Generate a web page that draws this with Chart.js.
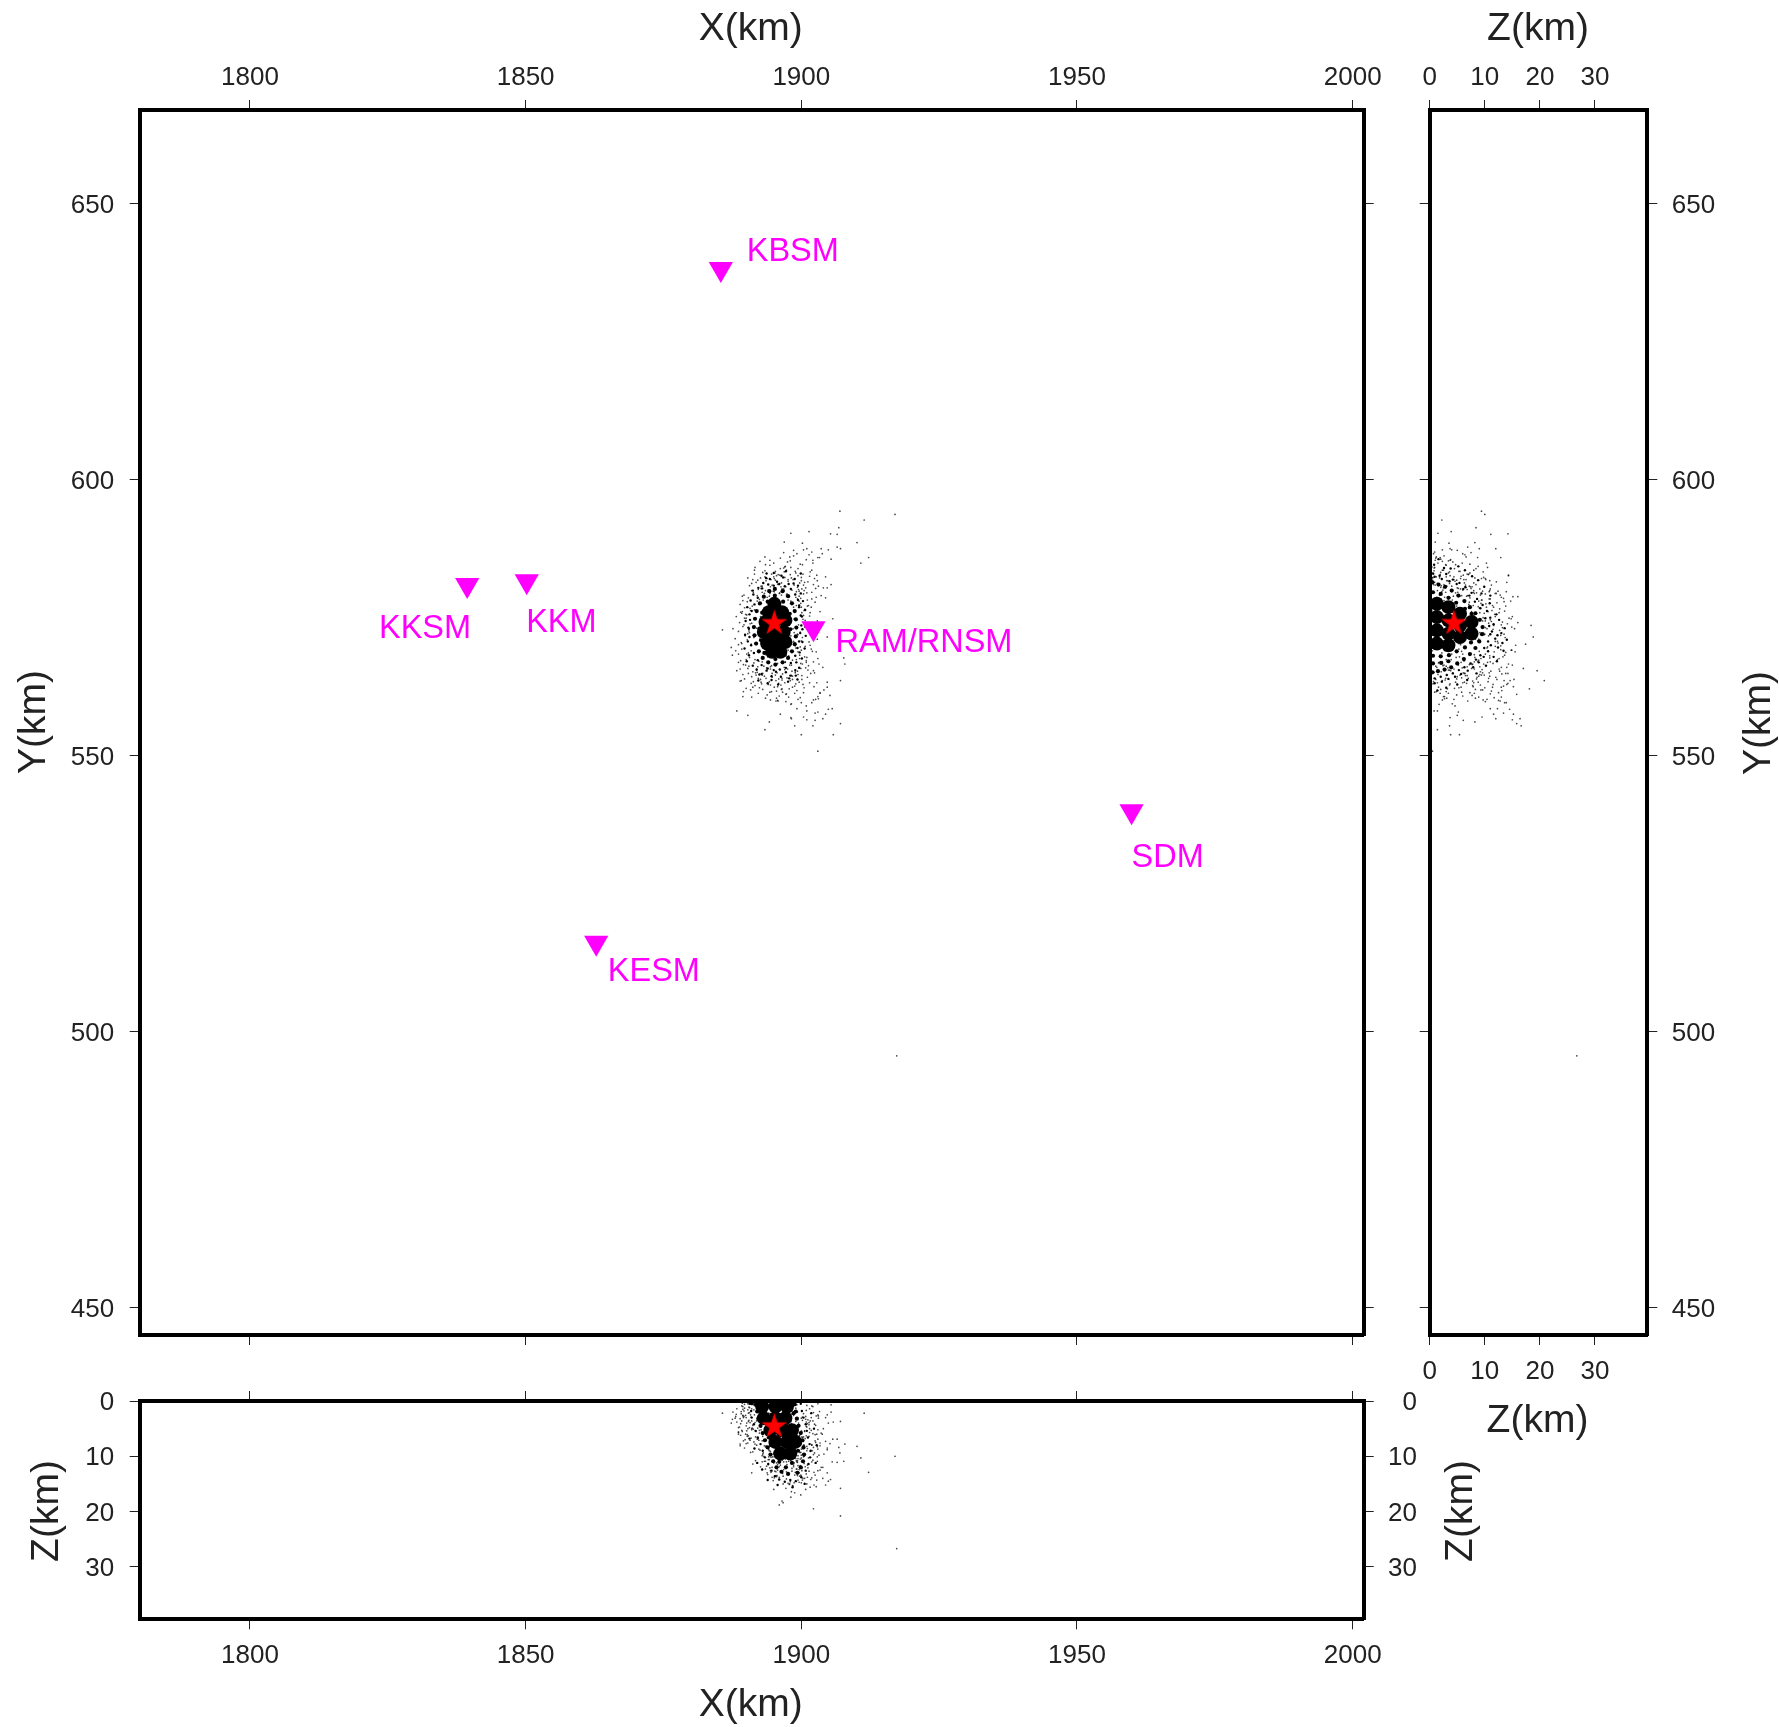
<!DOCTYPE html>
<html>
<head>
<meta charset="utf-8">
<title>Hypocentres</title>
<script src="https://cdn.jsdelivr.net/npm/chart.js@4/dist/chart.umd.min.js"></script>
<style>
  html, body { margin: 0; background: #fff; }
  body { position: relative; width: 1779px; height: 1727px; overflow: hidden; }
  canvas { position: absolute; left: 0; top: 0; }
</style>
</head>
<body>
<canvas id="mapChart" width="1779" height="1727"></canvas>
<canvas id="sideChart" width="1779" height="1727"></canvas>
<canvas id="floorChart" width="1779" height="1727"></canvas>
<script>
const xTicks = [1800, 1850, 1900, 1950, 2000];
const yTicks = [450, 500, 550, 600, 650];
const zTicks = [0, 10, 20, 30];

const stationNames = ['KBSM', 'KKSM', 'KKM', 'RAM/RNSM', 'SDM', 'KESM'];
const stationX = [1885.4, 1839.4, 1850.2, 1902.2, 1959.9, 1862.8];
const stationY = [638.2, 580.9, 581.6, 573.1, 539.9, 516.1];
const stationLabelX = [1890.1, 1823.4, 1850.1, 1906.2, 1959.9, 1864.9];
const stationLabelY = [639.7, 571.4, 572.4, 568.7, 529.9, 509.2];

const mainshockX = [1895.1];
const mainshockY = [574.2];
const mainshockZ = [4.4];

// solid black middle of the swarm, one list per view
const mapCoreX = [1895.1, 1894.1, 1896.5, 1893.5, 1895.1, 1897.1, 1893.2, 1895.0, 1896.8, 1893.8, 1895.6, 1897.1, 1894.7, 1896.2];
const mapCoreY = [577.5, 576.0, 576.0, 574.2, 574.2, 574.5, 572.4, 572.1, 572.4, 570.3, 570.3, 570.6, 568.8, 568.8];
const sideCoreZ = [1.3, 1.3, 1.3, 1.3, 3.4, 3.4, 3.4, 3.4, 5.5, 5.5, 5.5, 7.6, 7.6];
const sideCoreY = [577.5, 575.1, 572.7, 570.3, 576.9, 574.5, 572.1, 570.0, 575.7, 573.6, 571.5, 574.2, 572.1];
const floorCoreX = [1892.9, 1895.3, 1897.4, 1893.2, 1895.3, 1897.1, 1894.4, 1896.5, 1898.3, 1895.3, 1897.4, 1898.9, 1896.2, 1898.0];
const floorCoreZ = [1.0, 1.0, 1.0, 3.1, 3.1, 3.1, 5.3, 5.3, 5.3, 7.4, 7.4, 7.4, 9.5, 9.5];

// crowded edge of the black part
const mapPatchX = [
  1895.2, 1896.6, 1897.6, 1898.3, 1898.8, 1899.0, 1899.1, 1899.0, 1898.8, 1898.3, 1897.6, 1896.6,
  1895.3, 1894.0, 1893.0, 1892.3, 1891.8, 1891.5, 1891.4, 1891.6, 1891.9, 1892.5, 1893.2, 1894.2,
  1892.9, 1897.9, 1898.0, 1892.4, 1892.7, 1898.0, 1897.0, 1893.3, 1893.9, 1896.7, 1895.2, 1895.3
];
const mapPatchY = [
  580.2, 579.8, 578.9, 577.6, 576.2, 574.7, 573.2, 571.6, 570.2, 568.9, 567.7, 566.9,
  566.5, 566.9, 567.7, 568.9, 570.3, 571.8, 573.3, 574.8, 576.2, 577.6, 578.8, 579.8,
  575.9, 575.7, 572.9, 573.0, 570.9, 570.5, 568.3, 568.6, 577.9, 577.9, 579.0, 567.5
];
const sidePatchZ = [
  0.5, 1.6, 2.8, 4.0, 5.2, 6.3, 7.3, 8.3, 9.1, 9.6, 9.5, 9.0, 8.3, 7.3, 6.2, 5.0, 3.9, 2.7, 1.5, 0.5,
  0.6, 2.0, 3.4, 4.8, 6.4, 7.6, 0.6, 2.0, 3.5, 4.9, 6.4, 7.5, 0.6, 2.1, 3.4, 7.2, 6.9, 1.9
];
const sidePatchY = [
  581.4, 581.0, 580.6, 579.9, 579.0, 578.0, 576.9, 575.8, 574.6, 573.3, 572.0, 570.7, 569.5, 568.4, 567.5, 566.7, 566.0, 565.6, 565.3, 565.1,
  579.6, 579.3, 578.6, 577.7, 576.6, 575.7, 568.1, 568.0, 568.2, 568.9, 569.6, 570.5, 566.7, 566.8, 567.1, 573.9, 572.2, 578.2
];
const floorPatchX = [
  1891.8, 1892.0, 1892.2, 1892.6, 1893.0, 1893.4, 1893.9, 1894.4, 1894.9, 1895.5,
  1898.8, 1899.0, 1899.2, 1899.5, 1899.9, 1900.2, 1900.4, 1900.5, 1900.3, 1899.9, 1899.3,
  1893.7, 1894.1, 1894.6, 1895.3, 1896.0, 1897.2, 1898.3, 1899.4, 1899.0, 1894.3, 1898.6, 1891.0, 1897.6, 1896.4
];
const floorPatchZ = [
  0.6, 1.9, 3.2, 4.5, 5.8, 7.1, 8.4, 9.7, 10.9, 12.0,
  0.6, 1.9, 3.2, 4.5, 5.8, 7.1, 8.4, 9.7, 10.9, 12.0, 13.0,
  5.0, 6.6, 8.0, 9.4, 11.0, 12.0, 11.2, 9.0, 6.4, 3.6, 2.2, 0.4, 13.2, 12.8
];

// the grainy belt round it
const mapGrainX = [
  1893.1, 1894.3, 1895.6, 1896.7, 1897.7, 1898.8, 1899.4, 1892.2, 1893.7, 1897.2, 1895.0, 1899.9,
  1899.9, 1900.3, 1899.6, 1900.7, 1900.1, 1900.9, 1900.2, 1900.8, 1900.2, 1900.6, 1899.7, 1900.1, 1899.1, 1899.6,
  1891.3, 1890.8, 1890.2, 1890.6, 1889.9, 1890.4, 1889.8, 1890.3, 1889.7, 1890.5, 1890.1, 1891.2,
  1891.9, 1892.8, 1893.7, 1894.6, 1895.4, 1896.3, 1897.2, 1898.1, 1898.9, 1892.2, 1893.9, 1895.8, 1897.6, 1899.3,
  1892.9, 1894.0, 1895.0, 1896.0, 1897.0, 1898.1, 1898.9, 1899.4, 1899.6, 1899.9,
  1900.0, 1899.8, 1899.6, 1899.3, 1898.9, 1898.1, 1897.2, 1896.1, 1895.0, 1893.9,
  1892.8, 1892.1, 1891.4, 1890.9, 1890.6, 1890.5, 1890.7, 1891.0, 1891.5, 1892.1,
  1893.6, 1896.4, 1898.6, 1892.4, 1897.8, 1894.6, 1899.0, 1891.2
];
const mapGrainY = [
  581.3, 582.0, 581.5, 582.3, 581.1, 582.0, 580.8, 580.4, 583.0, 583.4, 583.1, 583.0,
  579.4, 578.0, 577.2, 576.4, 575.2, 574.0, 572.9, 571.7, 570.6, 569.4, 568.7, 567.6, 566.9, 565.9,
  579.2, 578.1, 576.9, 575.6, 574.4, 573.2, 571.9, 570.7, 569.4, 568.2, 567.1, 566.3,
  565.6, 564.8, 565.4, 564.4, 565.2, 564.3, 565.1, 564.5, 565.5, 563.6, 563.1, 562.9, 563.4, 563.8,
  580.3, 581.0, 580.8, 581.1, 580.7, 580.2, 579.2, 578.2, 576.9, 575.4,
  573.6, 572.2, 570.7, 569.5, 568.1, 566.8, 565.9, 565.6, 565.5, 565.8,
  566.4, 567.3, 568.6, 570.0, 571.5, 573.0, 574.6, 576.2, 577.4, 578.6,
  582.2, 582.6, 581.2, 564.7, 564.0, 563.7, 564.5, 579.9
];
const sideGrainZ = [
  0.6, 1.8, 3.0, 4.2, 5.4, 6.5, 7.6, 8.6, 9.6, 10.4, 11.0, 11.6, 11.3, 11.9, 11.1, 10.6, 9.8, 8.9, 7.9, 6.9,
  5.7, 4.6, 3.4, 2.2, 0.9, 12.6, 13.0, 12.4, 10.9, 9.4, 2.6, 0.8, 1.4, 3.0, 5.0, 6.8, 8.5, 10.2, 11.6, 13.2,
  10.1, 10.8, 11.0, 10.6, 9.9, 9.2, 8.4, 7.4, 6.3, 5.3,
  4.2, 3.1, 2.0, 0.9, 0.9, 2.2, 3.6, 4.9, 6.1, 7.2,
  8.2, 9.2, 12.1, 12.3, 13.6, 14.0, 13.4, 12.2, 11.0, 9.9,
  8.8, 7.7, 6.4, 5.2, 3.8, 1.6
];
const sideGrainY = [
  583.0, 582.6, 582.9, 581.9, 581.3, 580.5, 579.5, 578.4, 577.3, 576.2, 575.0, 573.8, 572.5, 571.2, 570.0, 568.9, 567.9, 566.9, 566.0, 565.4,
  564.8, 564.3, 563.9, 563.4, 563.1, 574.6, 572.2, 569.6, 577.6, 579.4, 584.0, 584.6, 561.8, 562.3, 562.9, 563.7, 564.9, 566.3, 567.9, 570.4,
  574.9, 573.5, 572.0, 570.7, 569.5, 568.2, 567.4, 566.7, 566.0, 565.5,
  564.9, 564.6, 564.3, 564.0, 582.4, 582.0, 581.6, 581.1, 580.2, 579.0,
  577.9, 576.7, 575.6, 571.8, 573.1, 571.0, 569.0, 567.1, 579.0, 580.6,
  581.8, 582.5, 583.6, 584.3, 583.9, 585.6
];
const floorGrainX = [
  1890.6, 1890.9, 1891.0, 1891.4, 1891.7, 1892.1, 1892.6, 1893.0, 1893.4, 1894.0, 1894.6, 1895.2, 1896.0, 1897.0, 1898.0, 1899.0, 1900.0, 1900.8, 1901.3, 1901.6,
  1901.7, 1901.5, 1901.2, 1901.0, 1900.8, 1900.4, 1900.1, 1899.9, 1892.0, 1892.9, 1891.5, 1890.6, 1902.6, 1902.8, 1902.3, 1901.8, 1893.9, 1895.7, 1898.4, 1900.6
];
const floorGrainZ = [
  0.5, 1.8, 3.0, 4.2, 5.4, 6.6, 7.8, 9.0, 10.2, 11.4, 12.6, 13.6, 14.2, 14.6, 14.3, 14.5, 13.8, 12.6, 11.4, 10.2,
  9.0, 7.8, 6.6, 5.4, 4.2, 3.0, 1.8, 0.5, 11.2, 12.4, 8.6, 6.8, 11.2, 8.0, 5.0, 2.2, 14.3, 15.2, 15.6, 15.0
];

// single events, same order in all three lists
const quakeX = [
  1907.0, 1917.0, 1911.4, 1906.8, 1901.4, 1906.5, 1905.3, 1910.1, 1898.1, 1900.2,
  1896.9, 1910.8, 1912.2, 1907.1, 1906.5, 1917.3, 1907.1, 1907.1, 1902.2, 1896.0,
  1896.7, 1896.5, 1898.1, 1898.8, 1898.2, 1895.0, 1885.7, 1888.6, 1887.5, 1888.1,
  1889.2, 1888.6, 1889.5, 1888.9, 1888.9, 1889.4, 1891.0, 1891.2, 1888.3, 1890.3,
  1894.2, 1893.4, 1896.2, 1898.1, 1900.0, 1902.1, 1903.0, 1905.8, 1904.4, 1903.9,
  1902.5, 1901.0, 1902.5, 1900.4, 1905.6, 1904.7, 1904.7, 1902.8, 1903.4, 1903.1,
  1902.2, 1907.9, 1907.7, 1903.9, 1903.0, 1905.7, 1904.7, 1902.7, 1904.4, 1905.4,
  1904.7, 1904.0, 1904.4, 1902.8, 1901.9, 1905.4, 1903.8, 1904.9, 1903.0, 1902.1,
  1898.6, 1900.4, 1901.0, 1896.8, 1901.9, 1903.6, 1894.3, 1895.3, 1892.6, 1892.7,
  1900.6, 1899.4, 1900.8, 1897.8, 1899.6, 1898.5, 1895.7, 1898.7, 1901.6, 1899.9,
  1896.2, 1897.5, 1898.6, 1899.8, 1900.9, 1902.1, 1903.3, 1897.1, 1899.2, 1901.4, 1898.1, 1900.2,
  1893.4, 1895.2, 1896.1, 1897.3, 1898.2, 1899.4, 1900.3, 1901.6, 1902.4, 1896.8, 1898.9, 1894.5,
  1890.6, 1891.8, 1892.7, 1893.6, 1894.4, 1895.7, 1896.5, 1897.6, 1898.7, 1899.7, 1900.8, 1902.2,
  1891.2, 1892.2, 1893.1, 1894.9, 1895.3, 1896.9, 1897.2, 1898.3, 1899.1, 1900.1, 1901.2, 1903.1,
  1889.6, 1890.4, 1891.3, 1892.4, 1893.3, 1894.1, 1899.6, 1900.4, 1901.1, 1901.9, 1902.7, 1903.6,
  1888.9, 1889.7, 1890.2, 1890.8, 1891.1, 1899.9, 1900.6, 1901.3, 1901.8, 1902.5, 1889.3, 1900.1,
  1888.2, 1888.8, 1889.4, 1889.9, 1890.5, 1900.3, 1900.9, 1901.5, 1902.1, 1899.8, 1887.6, 1903.0,
  1888.0, 1888.6, 1889.2, 1889.8, 1890.4, 1900.2, 1900.7, 1901.4, 1902.0, 1899.7, 1887.3, 1902.9,
  1889.0, 1889.9, 1890.6, 1891.4, 1892.3, 1893.2, 1899.1, 1899.9, 1900.6, 1901.3, 1902.2, 1903.2,
  1888.3, 1889.4, 1890.3, 1891.0, 1892.0, 1892.9, 1893.8, 1894.7, 1895.6, 1896.6, 1897.5, 1898.4,
  1899.3, 1900.1, 1900.8, 1901.7, 1889.1, 1890.9, 1892.6, 1894.2, 1895.9, 1897.0, 1898.0, 1899.0,
  1890.0, 1891.6, 1893.0, 1894.0, 1895.1, 1896.3, 1897.8, 1898.8, 1899.6, 1900.5, 1901.5, 1902.3,
  1892.2, 1893.5, 1894.6, 1895.4, 1896.0, 1897.2, 1898.2, 1899.4, 1900.4, 1901.9, 1903.0, 1904.1,
  1894.4, 1895.8, 1897.2, 1898.1, 1900.0, 1902.6, 1903.4, 1899.2, 1901.0, 1903.0, 1904.9, 1905.2,
  1893.1, 1894.0, 1895.0, 1895.9, 1896.8, 1897.7, 1898.6, 1899.5, 1892.5, 1894.5, 1896.2, 1898.0,
  1893.7, 1894.8, 1895.5, 1896.4, 1897.1, 1898.3, 1899.2, 1900.0, 1893.9, 1895.2, 1897.4, 1899.0,
  1894.3, 1895.6, 1896.6, 1897.3, 1898.1, 1898.9, 1899.7, 1900.5, 1894.9, 1896.0, 1897.9, 1899.3,
  1892.9, 1893.6, 1894.2, 1895.3, 1896.1, 1897.0, 1897.6, 1898.4, 1899.1, 1892.1, 1893.2, 1895.8,
  1889.7, 1890.3, 1890.9, 1891.5, 1892.0, 1890.1, 1891.0, 1891.7, 1892.4, 1889.2, 1890.7, 1891.9,
  1891.5, 1892.9, 1893.8, 1894.7, 1895.5, 1896.4, 1897.4, 1898.5, 1899.3, 1900.0, 1901.0, 1902.6,
  1890.5, 1891.9, 1892.8, 1893.7, 1894.6, 1895.7, 1896.9, 1897.9, 1898.9, 1900.1, 1901.1, 1902.4,
  1889.7, 1890.8, 1891.7, 1892.7, 1893.6, 1894.3, 1895.3, 1896.5, 1897.3, 1898.2, 1899.2, 1900.9,
  1892.0, 1893.0, 1894.2, 1895.0, 1896.0, 1897.0, 1898.0, 1899.0, 1900.5, 1901.5, 1902.9, 1897.9,
  1889.4, 1890.1, 1890.7, 1891.4, 1899.5, 1900.0, 1900.7, 1901.4, 1889.1, 1890.0, 1899.4, 1901.0,
  1891.0, 1892.1, 1893.4, 1894.6, 1895.8, 1896.9, 1898.0, 1899.0, 1900.0, 1891.5, 1893.5, 1897.0,
  1890.4, 1891.3, 1892.4, 1893.3, 1894.4, 1895.4, 1896.4, 1897.4, 1898.4, 1899.4, 1900.3, 1901.2,
  1889.0, 1889.6, 1890.2, 1890.9, 1891.6, 1889.3, 1890.0, 1890.6, 1891.2, 1888.6, 1889.5, 1891.8,
  1899.9, 1900.4, 1901.1, 1899.4, 1900.0, 1900.9, 1901.6, 1902.3, 1899.6, 1901.8, 1902.9, 1900.4,
  1892.6, 1893.5, 1894.4, 1895.1, 1895.9, 1896.7, 1897.6, 1898.4, 1899.3, 1900.2, 1901.1, 1892.9,
  1893.8, 1894.7, 1895.9, 1896.8, 1897.5, 1898.6, 1899.6, 1900.6, 1894.1, 1895.5, 1896.7, 1898.3,
  1895.1, 1896.2, 1893.5, 1897.3, 1894.1, 1898.9, 1895.7, 1897.1, 1893.0, 1896.5, 1898.1, 1894.4,
  1892.3, 1893.0, 1894.0, 1895.0, 1896.3, 1897.6, 1898.7, 1899.8, 1891.0, 1892.2, 1893.8, 1895.5,
  1896.6, 1897.7, 1898.8, 1899.8, 1900.9, 1891.6, 1892.5, 1893.4, 1894.3, 1890.3, 1901.9, 1903.4
];
const quakeY = [
  594.3, 593.7, 592.7, 591.3, 590.6, 590.1, 590.2, 588.6, 590.3, 588.5,
  588.7, 584.9, 585.9, 587.5, 587.8, 495.6, 563.6, 555.8, 565.4, 571.5,
  573.6, 562.1, 570.2, 555.4, 556.7, 578.8, 572.8, 572.5, 568.2, 569.0,
  570.3, 566.9, 566.5, 565.7, 563.5, 560.7, 560.6, 562.4, 558.1, 557.3,
  556.1, 554.7, 557.5, 556.9, 553.8, 555.4, 550.8, 553.8, 557.5, 556.7,
  556.4, 556.5, 557.7, 557.0, 558.5, 563.3, 562.4, 563.2, 561.4, 560.3,
  560.1, 566.6, 567.7, 566.0, 567.6, 574.8, 571.5, 568.8, 578.6, 581.0,
  580.4, 580.4, 582.4, 582.7, 583.6, 585.6, 586.6, 587.3, 585.9, 585.4,
  587.2, 587.3, 587.5, 586.8, 586.9, 587.5, 584.5, 583.4, 582.2, 580.7,
  581.4, 582.6, 574.1, 578.8, 578.0, 573.0, 560.0, 574.8, 570.0, 565.8,
  585.8, 585.1, 586.2, 584.7, 585.5, 584.9, 585.9, 584.3, 586.6, 586.4, 584.1, 584.6,
  582.4, 583.1, 582.7, 583.6, 582.2, 583.9, 582.9, 583.3, 582.1, 584.0, 583.4, 581.9,
  580.8, 581.4, 580.3, 581.7, 580.6, 581.1, 580.2, 581.6, 580.9, 581.3, 580.4, 581.0,
  581.9, 580.1, 581.2, 579.8, 581.8, 579.9, 580.6, 580.0, 579.7, 580.2, 581.5, 580.7,
  579.1, 578.6, 579.6, 578.3, 579.4, 579.7, 578.9, 579.3, 578.2, 579.6, 578.7, 579.0,
  577.4, 576.8, 577.9, 576.3, 577.1, 577.6, 576.5, 577.2, 576.9, 577.8, 576.1, 575.9,
  575.2, 574.1, 573.4, 575.6, 572.6, 574.7, 573.2, 575.3, 574.0, 572.4, 573.0, 572.9,
  571.2, 570.1, 569.3, 571.7, 568.6, 571.4, 569.8, 570.6, 568.9, 568.2, 569.6, 571.1,
  567.2, 566.4, 567.8, 566.8, 567.1, 566.2, 567.4, 566.7, 567.9, 566.3, 567.0, 566.6,
  565.4, 564.7, 565.8, 564.3, 565.1, 564.6, 565.6, 564.2, 565.0, 564.8, 565.7, 564.4,
  565.3, 564.5, 565.9, 564.9, 563.6, 563.1, 563.8, 563.4, 563.9, 563.2, 563.6, 563.0,
  562.2, 562.7, 562.0, 562.9, 562.4, 562.8, 562.1, 562.6, 563.3, 562.3, 563.2, 562.5,
  561.3, 560.4, 561.6, 559.9, 560.8, 561.1, 559.4, 560.2, 561.4, 559.6, 560.7, 561.9,
  560.1, 559.9, 559.8, 559.3, 559.6, 560.2, 561.3, 558.5, 558.1, 557.9, 558.4, 560.9,
  578.2, 576.1, 574.3, 572.2, 570.4, 568.1, 576.9, 573.7, 571.1, 569.2, 577.5, 575.0,
  575.6, 573.2, 571.4, 579.1, 566.9, 577.7, 574.6, 570.8, 567.9, 576.6, 572.9, 569.5,
  579.4, 577.9, 575.8, 573.9, 571.7, 569.9, 567.6, 576.3, 574.9, 568.7, 566.4, 578.4,
  580.7, 568.3, 576.8, 566.5, 579.5, 565.6, 581.9, 567.3, 577.2, 566.1, 572.0, 582.8,
  574.9, 572.1, 570.2, 576.4, 578.0, 568.4, 574.0, 571.9, 568.9, 575.8, 576.7, 573.1,
  582.9, 579.6, 582.1, 580.9, 582.6, 581.3, 579.3, 581.9, 580.5, 582.3, 579.5, 580.3,
  566.2, 565.5, 563.0, 565.9, 566.3, 562.5, 566.0, 564.5, 565.2, 563.8, 564.2, 565.0,
  563.9, 561.9, 565.0, 563.3, 564.0, 561.5, 564.6, 563.7, 561.2, 566.4, 561.8, 566.9,
  579.0, 583.2, 578.9, 584.9, 579.4, 582.3, 585.3, 578.7, 579.9, 582.5, 581.7, 586.0,
  578.1, 575.5, 573.9, 571.4, 580.1, 576.9, 574.5, 572.7, 570.5, 567.4, 568.8, 567.8,
  579.9, 581.8, 583.5, 582.9, 581.0, 583.3, 582.8, 583.1, 581.7, 583.6, 584.6, 584.2,
  564.9, 563.4, 562.3, 564.4, 562.8, 563.6, 562.0, 564.1, 562.4, 564.7, 562.9, 565.5,
  576.0, 573.7, 571.0, 569.0, 567.4, 578.9, 574.9, 572.3, 565.2, 568.4, 561.6, 564.6,
  578.5, 575.4, 573.6, 571.9, 569.1, 567.2, 575.9, 571.8, 566.0, 569.3, 574.4, 580.9,
  575.2, 570.7, 565.7, 579.7, 563.1, 575.2, 569.1, 563.8, 572.0, 566.6, 577.1, 567.0,
  578.7, 564.9, 573.0, 580.2, 574.2, 570.7, 579.8, 573.3, 568.4, 561.7, 576.2, 565.3,
  582.1, 583.9, 579.9, 579.1, 577.0, 565.0, 566.7, 567.0, 564.9, 564.0, 578.0, 566.1,
  577.4, 574.4, 580.0, 582.4, 580.6, 578.2, 572.3, 569.7, 581.2, 564.0, 561.0, 560.4,
  561.5, 560.6, 561.3, 560.5, 559.0, 584.1, 585.2, 586.0, 585.4, 582.2, 578.4, 576.1
];
const quakeZ = [
  9.4, 10.0, 2.2, 8.4, 3.9, 11.1, 14.2, 8.2, 1.5, 3.5,
  1.0, 10.3, 12.9, 3.7, 6.9, 26.7, 20.8, 15.8, 19.5, 18.8,
  18.4, 18.1, 17.4, 16.6, 16.4, 16.0, 2.2, 4.8, 3.3, 2.8,
  5.3, 5.7, 7.2, 8.1, 7.8, 2.7, 13.0, 11.4, 1.4, 5.0,
  8.2, 1.4, 11.6, 3.7, 5.4, 3.6, 0.5, 3.8, 15.2, 12.0,
  6.1, 15.0, 13.4, 9.5, 11.0, 8.8, 13.0, 6.0, 12.5, 2.7,
  9.7, 7.8, 10.9, 14.0, 12.6, 6.9, 8.5, 15.5, 7.3, 0.7,
  2.5, 5.0, 3.0, 14.3, 8.0, 2.0, 6.0, 4.0, 8.7, 1.0,
  5.0, 2.3, 9.0, 7.5, 0.9, 12.0, 3.0, 5.5, 1.8, 4.0,
  14.0, 14.3, 16.0, 15.1, 14.7, 15.4, 12.5, 14.8, 15.6, 17.0,
  1.1, 4.2, 2.6, 7.3, 3.8, 5.9, 1.9, 8.8, 0.7, 6.4, 10.5, 2.9,
  1.2, 3.4, 6.1, 2.3, 8.2, 4.5, 7.1, 3.6, 9.4, 0.8, 5.3, 10.2,
  2.1, 0.9, 5.2, 3.3, 7.4, 1.7, 9.1, 4.6, 11.2, 6.3, 2.8, 8.4,
  4.4, 6.8, 1.4, 9.6, 0.5, 3.9, 7.7, 2.4, 10.8, 5.6, 12.1, 3.1,
  1.8, 3.7, 5.1, 0.6, 8.1, 2.2, 6.7, 10.1, 4.1, 7.9, 2.7, 5.8,
  3.2, 1.3, 6.4, 2.5, 4.9, 9.3, 5.5, 11.4, 3.0, 7.2, 0.4, 12.6,
  2.4, 4.7, 1.0, 6.0, 3.5, 8.6, 13.2, 5.0, 10.7, 7.6, 2.0, 6.9,
  3.1, 5.6, 0.9, 7.0, 2.2, 6.6, 11.9, 4.3, 9.0, 13.6, 4.0, 8.3,
  6.2, 2.6, 4.8, 1.6, 8.7, 3.0, 12.3, 7.5, 5.4, 10.3, 2.1, 9.8,
  3.8, 1.5, 7.6, 5.0, 0.8, 9.9, 2.7, 12.0, 6.1, 13.1, 4.4, 8.9,
  11.1, 6.5, 3.3, 14.2, 2.3, 6.7, 1.1, 10.6, 4.9, 8.0, 14.6, 3.7,
  4.5, 7.8, 2.0, 11.5, 5.7, 9.2, 3.2, 13.4, 6.3, 10.0, 1.4, 15.2,
  3.4, 8.3, 1.2, 12.8, 6.0, 15.8, 4.1, 10.4, 7.3, 13.9, 2.5, 9.6,
  2.3, 6.9, 10.1, 1.7, 13.6, 4.4, 8.1, 12.3, 0.8, 5.2, 14.5, 7.7,
  9.4, 10.6, 11.2, 9.8, 12.4, 10.9, 11.6, 13.0, 8.9, 12.9, 10.2, 9.7,
  11.8, 10.1, 13.7, 9.2, 10.5, 12.2, 11.0, 8.7, 13.3, 12.7, 11.5, 10.4,
  12.1, 13.5, 9.9, 14.1, 10.7, 12.9, 9.3, 11.3, 14.4, 13.8, 15.0, 10.8,
  7.2, 8.1, 9.0, 7.7, 8.5, 9.5, 6.6, 8.9, 7.9, 6.8, 10.0, 7.0,
  0.6, 1.6, 2.9, 0.4, 1.9, 4.0, 5.2, 6.5, 5.8, 3.6, 7.1, 8.0,
  0.7, 2.9, 5.6, 1.0, 3.7, 8.0, 0.3, 6.2, 2.0, 9.8, 4.7, 7.5,
  1.1, 3.6, 0.6, 5.9, 2.4, 7.9, 1.3, 6.8, 2.1, 12.2, 8.6, 4.2,
  8.5, 9.3, 10.8, 4.7, 7.0, 0.9, 9.4, 2.8, 11.0, 5.2, 13.1, 1.7,
  6.9, 2.0, 4.3, 1.5, 11.9, 0.6, 3.4, 1.3, 8.0, 5.7, 10.9, 6.6,
  2.6, 5.4, 3.9, 7.4, 4.0, 10.3, 6.8, 12.7, 1.9, 3.0, 11.7, 8.2,
  1.4, 4.9, 0.8, 6.8, 2.6, 9.7, 1.9, 7.3, 3.1, 2.5, 4.7, 0.4,
  6.3, 0.7, 5.3, 10.9, 3.6, 13.5, 8.3, 5.8, 1.6, 9.1, 14.0, 3.4,
  4.1, 2.8, 6.1, 0.5, 3.9, 5.5, 7.7, 1.2, 9.2, 6.0, 3.0, 5.5,
  13.4, 8.0, 11.6, 9.9, 14.8, 6.3, 9.1, 12.9, 13.0, 5.3, 10.1, 6.5,
  11.9, 12.3, 12.6, 13.9, 14.2, 15.0, 14.9, 15.3, 13.5, 14.3, 13.8, 11.0,
  13.0, 13.8, 10.4, 11.0, 13.2, 11.9, 12.4, 14.9, 10.1, 11.2, 13.6, 12.7,
  10.1, 8.4, 10.9, 12.8, 8.8, 9.6, 11.5, 8.1, 6.4, 10.7, 8.9, 9.1,
  7.1, 9.6, 6.0, 4.4, 6.4, 9.5, 9.1, 10.5, 3.6, 2.9, 4.9, 3.1,
  5.8, 8.9, 1.9, 11.7, 4.6, 0.9, 2.3, 1.2, 3.7, 0.5, 11.0, 7.6
];

const PAGE_W = 1779;
const PAGE_H = 1727;
const TEXT_FONT = '"Liberation Sans", Arial, Helvetica, sans-serif';
const MAGENTA = '#ff00ff';

const pairs = (a, b) => a.map((v, i) => ({ x: v, y: b[i] }));

function starImage(r) {
  const c = document.createElement('canvas');
  c.width = c.height = Math.ceil(r * 2) + 2;
  const ctx = c.getContext('2d');
  ctx.translate(c.width / 2, c.height / 2 + r * 0.08);
  ctx.beginPath();
  for (let i = 0; i < 10; i++) {
    const len = i % 2 ? r * 0.382 : r;
    const a = -Math.PI / 2 + i * Math.PI / 5;
    ctx.lineTo(Math.cos(a) * len, Math.sin(a) * len);
  }
  ctx.closePath();
  ctx.fillStyle = '#ff0000';
  ctx.fill();
  return c;
}
const star = starImage(13.5);

function axis(position, min, max, ticks, size, opts = {}) {
  const vertical = position === 'left' || position === 'right';
  return {
    type: 'linear',
    position,
    min,
    max,
    reverse: !!opts.reverse,
    afterBuildTicks: s => { s.ticks = ticks.map(value => ({ value })); },
    afterFit: s => {
      if (s.isHorizontal()) s.height = size;
      else s.width = size;
    },
    border: { display: true, color: '#000', width: 4, z: 2 },
    grid: { drawOnChartArea: false, drawTicks: true, tickLength: 10, tickWidth: 1, tickColor: '#222', z: 1 },
    ticks: {
      display: !!opts.labels,
      padding: opts.padding ?? 8,
      labelOffset: vertical ? 2 : 0,
      crossAlign: opts.crossAlign || 'near',
      color: '#222',
      autoSkip: false,
      maxRotation: 0,
      minRotation: 0,
      font: { family: TEXT_FONT, size: 26 },
      callback: v => String(v)
    }
  };
}

// titles and station names, the title positions are page pixels
const pageText = {
  id: 'pageText',
  afterDraw(chart, args, opts) {
    const ctx = chart.ctx;
    ctx.save();
    (opts.titles || []).forEach(t => {
      ctx.save();
      ctx.translate(t.x, t.y);
      if (t.turned) ctx.rotate(-Math.PI / 2);
      ctx.font = '39px ' + TEXT_FONT;
      ctx.fillStyle = '#222';
      ctx.textAlign = 'center';
      ctx.textBaseline = 'alphabetic';
      ctx.fillText(t.text, 0, 0);
      ctx.restore();
    });
    if (opts.stations) {
      ctx.font = '32.5px ' + TEXT_FONT;
      ctx.fillStyle = MAGENTA;
      ctx.textAlign = 'left';
      ctx.textBaseline = 'alphabetic';
      stationNames.forEach((name, i) => {
        ctx.fillText(name, chart.scales.x.getPixelForValue(stationLabelX[i]), chart.scales.y.getPixelForValue(stationLabelY[i]));
      });
    }
    ctx.restore();
  }
};

function panel(id, datasets, scales, textOpts, rightPad = 0) {
  return new Chart(document.getElementById(id), {
    type: 'scatter',
    data: { datasets },
    options: {
      responsive: false,
      animation: false,
      devicePixelRatio: 1,
      layout: { autoPadding: false, padding: { left: 0, top: 0, right: rightPad, bottom: 0 } },
      scales,
      plugins: { legend: { display: false }, tooltip: { enabled: false }, pageText: textOpts }
    },
    plugins: [pageText]
  });
}

function marks(a, b, radius, color = '#000') {
  return { data: pairs(a, b), pointRadius: radius, pointBorderWidth: 0, backgroundColor: color, showLine: false };
}
function mainshock(a, b) {
  return { data: pairs(a, b), pointStyle: star, pointRadius: 14, showLine: false };
}
const DOT_GREY = 'rgba(0,0,0,.72)';

// plan view
panel('mapChart', [
  mainshock(mainshockX, mainshockY),
  { data: pairs(stationX, stationY), pointStyle: 'triangle', rotation: 180, pointRadius: 14, pointBorderWidth: 0, backgroundColor: MAGENTA, showLine: false },
  marks(quakeX, quakeY, 0.85, DOT_GREY),
  marks(mapGrainX, mapGrainY, 1.2),
  marks(mapPatchX, mapPatchY, 2.1),
  marks(mapCoreX, mapCoreY, 7)
], {
  x: axis('bottom', 1780, 2002, xTicks, PAGE_H - 1335),
  xTop: axis('top', 1780, 2002, xTicks, 110, { labels: true, padding: 6.6 }),
  y: axis('left', 445, 667, yTicks, 139.7, { labels: true, padding: 15.5 }),
  yRight: axis('right', 445, 667, yTicks, PAGE_W - 1363.7)
}, {
  stations: true,
  titles: [
    { text: 'X(km)', x: 750.8, y: 40 },
    { text: 'Y(km)', x: 45, y: 722, turned: true }
  ]
});

// depth against Y, right of the map
panel('sideChart', [
  mainshock(mainshockZ, mainshockY),
  marks(quakeZ, quakeY, 0.85, DOT_GREY),
  marks(sideGrainZ, sideGrainY, 1.2),
  marks(sidePatchZ, sidePatchY, 2.1),
  marks(sideCoreZ, sideCoreY, 7)
], {
  x: axis('bottom', 0, 39.5, zTicks, PAGE_H - 1335, { labels: true, padding: 10.9 }),
  xTop: axis('top', 0, 39.5, zTicks, 110, { labels: true, padding: 6.6 }),
  y: axis('left', 445, 667, yTicks, 1429.7),
  yRight: axis('right', 445, 667, yTicks, PAGE_W - 1647.3, { labels: true, padding: 14.5 })
}, {
  titles: [
    { text: 'Z(km)', x: 1538, y: 40 },
    { text: 'Z(km)', x: 1537.5, y: 1432.3 },
    { text: 'Y(km)', x: 1770, y: 723, turned: true }
  ]
});

// depth against X, under the map
panel('floorChart', [
  mainshock(mainshockX, mainshockZ),
  marks(quakeX, quakeZ, 0.85, DOT_GREY),
  marks(floorGrainX, floorGrainZ, 1.2),
  marks(floorPatchX, floorPatchZ, 2.1),
  marks(floorCoreX, floorCoreZ, 7)
], {
  x: axis('bottom', 1780, 2002, xTicks, PAGE_H - 1619.3, { labels: true, padding: 10.9 }),
  xTop: axis('top', 1780, 2002, xTicks, 1401),
  y: axis('left', 0, 39.5, zTicks, 139.7, { labels: true, padding: 15.5, reverse: true }),
  yRight: axis('right', 0, 39.5, zTicks, 1417 - 1363.7, { labels: true, crossAlign: 'far', reverse: true })
}, {
  titles: [
    { text: 'X(km)', x: 750.8, y: 1716 },
    { text: 'Z(km)', x: 58, y: 1511, turned: true },
    { text: 'Z(km)', x: 1472, y: 1511, turned: true }
  ]
}, PAGE_W - 1417);
</script>
</body>
</html>
